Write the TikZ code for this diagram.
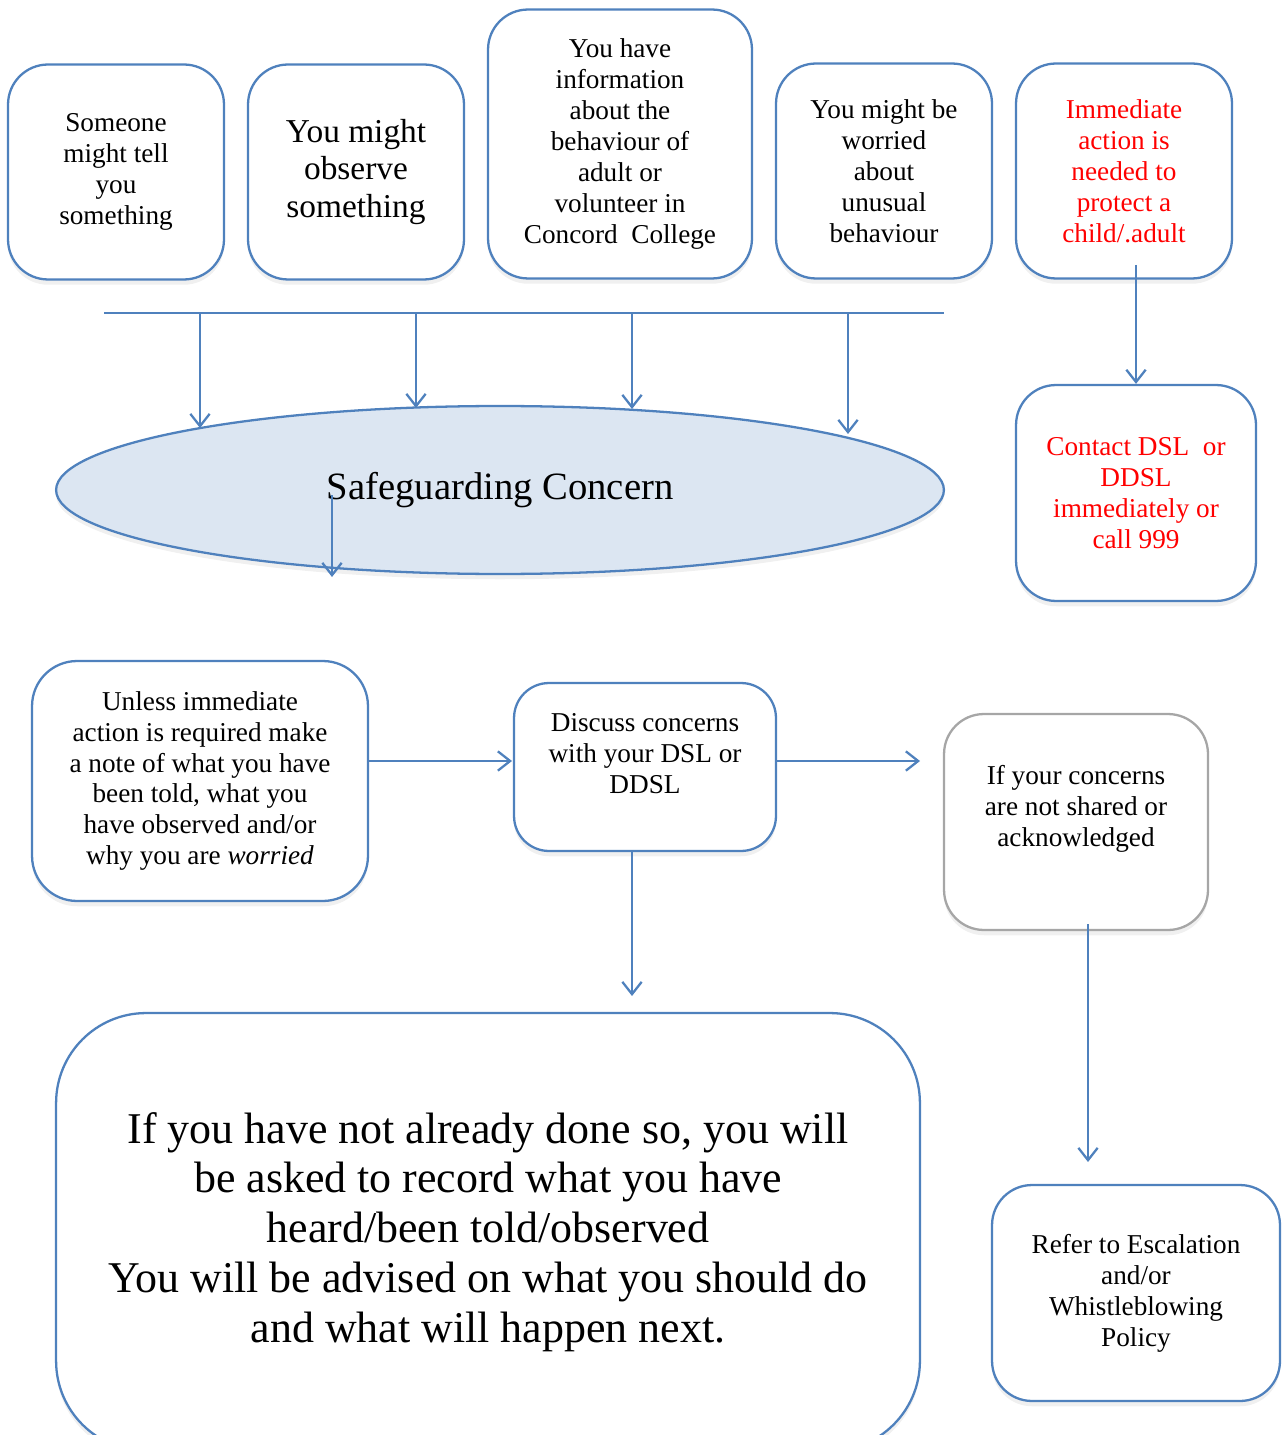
\documentclass[tikz,border=0pt]{standalone}
\usepackage{fontspec}
\setmainfont{Liberation Serif}
\usepackage{xcolor}
\usetikzlibrary{arrows.meta,shapes,shadows}
\usetikzlibrary{positioning}
\definecolor{boxblue}{HTML}{4F81BD}
\definecolor{ellfill}{HTML}{DCE6F2}
\definecolor{boxgrey}{HTML}{A6A6A6}

\begin{document}
\begin{tikzpicture}[x=0.02cm, y=-0.02cm]
\tikzstyle{mybox} = [rectangle, rounded corners=0.8cm, draw = boxblue, line width=1.3pt, fill=white, align=center, inner sep=0pt, drop shadow={shadow xshift=0pt, shadow yshift=-3pt, opacity=0.12}]
\tikzstyle{smallbox} = [mybox, minimum width=4.32cm, minimum height=4.3cm]
\tikzstyle{txt} = [font=\fontsize{15.5}{17.6}\selectfont]
\tikzstyle{myarrow} = [-{Straight Barb[length=7pt,width=11pt]}, draw = boxblue, line width=1.3pt]
\useasboundingbox (0,0) rectangle (1282,1435);

% top row
\node (tell) [smallbox, txt] at (116,172) {Someone\\might tell\\you\\something};
\node (observe) [smallbox, font=\fontsize{19}{21.6}\selectfont] at (356,172) {You might\\observe\\something};
\node (info) [mybox, txt, minimum width=5.28cm, minimum height=5.38cm] at (620,144) {You have\\information\\about the\\behaviour of\\adult or\\volunteer in\\Concord~~College};
\node (worried) [smallbox, txt] at (884,171) {You might be\\worried\\about\\unusual\\behaviour};
\node (immediate) [smallbox, txt, text=red] at (1124,171) {Immediate\\action is\\needed to\\protect a\\child/.adult};

% concern
\node (concern) [ellipse, draw = boxblue, fill=ellfill, line width=1.3pt, minimum width=17.76cm, minimum height=3.36cm, inner sep=0pt, font=\fontsize{22}{26}\selectfont, drop shadow={shadow xshift=0pt, shadow yshift=-3pt, opacity=0.12}] at (500,490) {Safeguarding Concern};
\node (contact) [mybox, txt, text=red, minimum width=4.8cm, minimum height=4.32cm] at (1136,493) {Contact DSL~~or\\DDSL\\immediately or\\call 999};

% bar into concern
\coordinate (barL) at (104,313);
\coordinate (barR) at (944,313);
\draw [draw = boxblue, line width=1.3pt] (barL) -- (barR);
\foreach \x/\y [count=\i] in {200/428, 416/408, 632/409, 848/434} {
  \coordinate (drop\i) at (\x,313);
  \coordinate (tip\i) at (\x,\y);
  \draw [myarrow] (drop\i) -- (tip\i);
}
\coordinate (concernout) at (332,495);
\coordinate (concernend) at (332,577);
\draw [myarrow] (concernout) -- (concernend);
\coordinate (immtail) at (1136,265);
\draw [myarrow] (immtail) -- (contact.north);

% middle row
\node (unless) [mybox, txt, rounded corners=0.9cm, minimum width=6.72cm, minimum height=4.8cm] at (200,781) {Unless immediate\\action is required make\\a note of what you have\\been told, what you\\have observed and/or\\why you are \emph{worried}};
\node (discuss) [mybox, rounded corners=0.7cm, minimum width=5.24cm, minimum height=3.36cm, label={[txt, align=center, yshift=0.27cm]center:Discuss concerns\\with your DSL or\\DDSL}] at (645,767) {};
\node (notshared) [mybox, draw = boxgrey, minimum width=5.28cm, minimum height=4.32cm, label={[txt, align=center, yshift=0.26cm]center:If your concerns\\are not shared or\\acknowledged}] at (1076,822) {};

\coordinate (unlessout) at (368,761);
\coordinate (discussin) at (512,761);
\draw [myarrow] (unlessout) -- (discussin);
\coordinate (discussout) at (776,761);
\coordinate (sharedin) at (920,761);
\draw [myarrow] (discussout) -- (sharedin);
\coordinate (discussdown) at (632,851);
\coordinate (recordin) at (632,996);
\draw [myarrow] (discussdown) -- (recordin);
\coordinate (sharedout) at (1088,924);
\coordinate (referin) at (1088,1162);
\draw [myarrow] (sharedout) -- (referin);

% bottom row
\node (record) [mybox, rounded corners=1.8cm, minimum width=17.28cm, minimum height=8.76cm, font=\fontsize{25}{28.4}\selectfont] at (488,1232) {If you have not already done so, you will\\be asked to record what you have\\heard/been told/observed\\You will be advised on what you should do\\and what will happen next.};
\node (refer) [mybox, txt, minimum width=5.76cm, minimum height=4.32cm] at (1136,1293) {Refer to Escalation\\and/or\\Whistleblowing\\Policy};
\end{tikzpicture}
\end{document}
